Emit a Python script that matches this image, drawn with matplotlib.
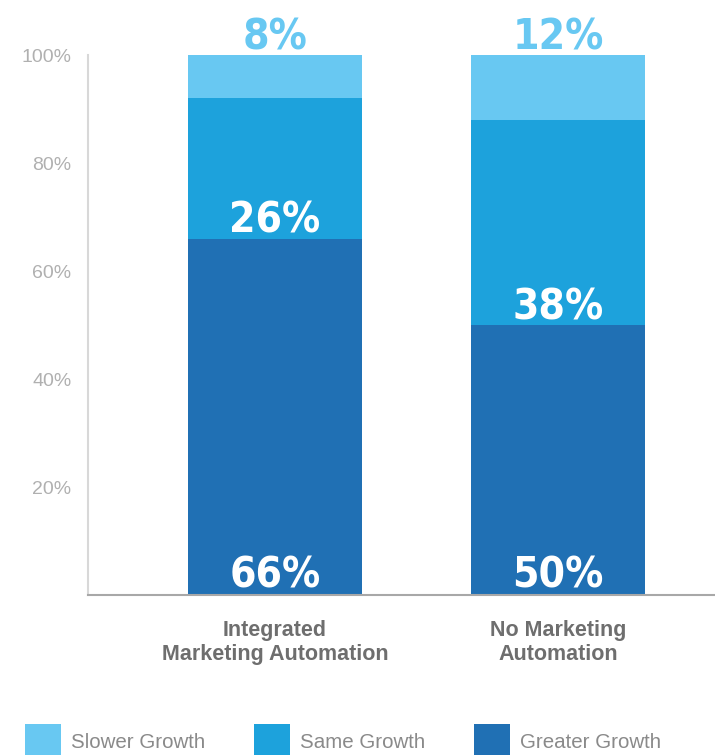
import matplotlib
matplotlib.use("Agg")
import matplotlib.pyplot as plt

categories = ["Integrated\nMarketing Automation", "No Marketing\nAutomation"]
greater = [66, 50]
same = [26, 38]
slower = [8, 12]
series_names = ["Slower Growth", "Same Growth", "Greater Growth"]

c_slower = "#68C8F2"
c_same = "#1DA2DC"
c_greater = "#2070B4"

fig = plt.figure(figsize=(7.15, 7.55), dpi=100)
ax = fig.add_axes([88 / 715, 160 / 755, 627 / 715, 540 / 755])

x = list(range(len(categories)))
w = 0.615
b1 = ax.bar(x, greater, w, color=c_greater, label="Greater Growth")
b2 = ax.bar(x, same, w, bottom=greater, color=c_same, label="Same Growth")
tops = [g + s for g, s in zip(greater, same)]
b3 = ax.bar(x, slower, w, bottom=tops, color=c_slower, label="Slower Growth")

big = dict(family="DejaVu Sans", fontstretch="condensed", fontweight="bold",
           fontsize=30.5, ha="center", va="center")
for i in x:
    ax.text(i, 3.7, f"{greater[i]}%", color="white", **big)
    ax.text(i, greater[i] + 3.3, f"{same[i]}%", color="white", **big)
    ax.text(i, 103.3, f"{slower[i]}%", color=c_slower, clip_on=False, **big)

ax.set_xlim(-0.661, 1.555)
ax.set_ylim(0, 100)
ax.set_yticks([20, 40, 60, 80, 100])
ax.set_yticklabels(["20%", "40%", "60%", "80%", "100%"])
ax.set_xticks(x)
ax.set_xticklabels(categories)
for lab in ax.get_xticklabels():
    lab.set_fontweight("bold")
    lab.set_color("#6E6E6E")
    lab.set_fontsize(15.5)
    lab.set_family("Liberation Sans")
    lab.set_linespacing(1.2)
for lab in ax.get_yticklabels():
    lab.set_color("#B0B0B0")
    lab.set_fontsize(14)
    lab.set_family("Liberation Sans")
ax.tick_params(axis="y", length=0, pad=12)
ax.tick_params(axis="x", length=0, pad=18)

for s in ["top", "right"]:
    ax.spines[s].set_visible(False)
ax.spines["left"].set_color("#D8D8D8")
ax.spines["left"].set_linewidth(1.5)
ax.spines["bottom"].set_color("#A8A8A8")
ax.spines["bottom"].set_linewidth(1.5)

leg = fig.legend(handles=[b3, b2, b1], labels=series_names, loc="lower left",
                 bbox_to_anchor=(25 / 715, -4 / 755), ncol=3, frameon=False,
                 handlelength=1.75, handleheight=2.25, handletextpad=0.5,
                 columnspacing=2.35, borderpad=0, borderaxespad=0,
                 prop={"family": "Liberation Sans", "size": 14.8})
for t in leg.get_texts():
    t.set_color("#8A8A8A")

fig.savefig("out.png", dpi=100)
